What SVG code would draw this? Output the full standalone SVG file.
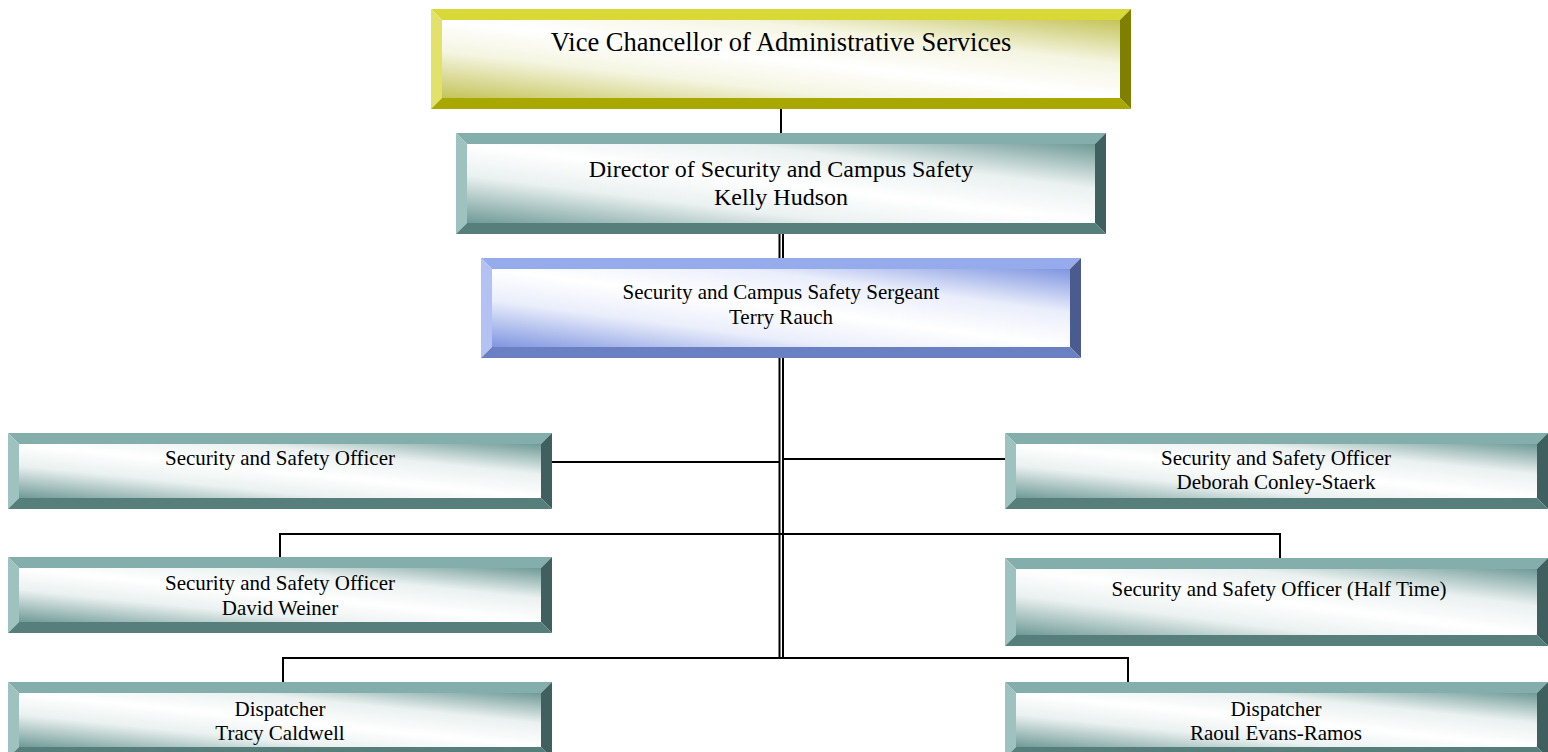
<svg xmlns="http://www.w3.org/2000/svg" width="1548" height="752" viewBox="0 0 1548 752">
<defs>
<linearGradient id="gT" x1="0" y1="1" x2="1" y2="0">
<stop offset="0" stop-color="#6f9a97"/><stop offset="0.3" stop-color="#eaf1f0"/><stop offset="0.5" stop-color="#ffffff"/><stop offset="0.72" stop-color="#eaf1f0"/><stop offset="1" stop-color="#6f9a97"/>
</linearGradient>
<linearGradient id="gY" x1="0" y1="1" x2="1" y2="0">
<stop offset="0" stop-color="#c4c45a"/><stop offset="0.3" stop-color="#f5f5e2"/><stop offset="0.5" stop-color="#ffffff"/><stop offset="0.72" stop-color="#f5f5e2"/><stop offset="1" stop-color="#c4c45a"/>
</linearGradient>
<linearGradient id="gB" x1="0" y1="1" x2="1" y2="0">
<stop offset="0" stop-color="#7f95e0"/><stop offset="0.3" stop-color="#eaeefb"/><stop offset="0.5" stop-color="#ffffff"/><stop offset="0.72" stop-color="#eaeefb"/><stop offset="1" stop-color="#7f95e0"/>
</linearGradient>
</defs>
<style>
.t .bt{fill:#84aeab}.t .bl{fill:#9dc2bf}.t .br{fill:#3f605e}.t .bb{fill:#567f7c}.t .f{fill:url(#gT)}
.y .bt{fill:#d8d836}.y .bl{fill:#e2e26a}.y .br{fill:#7f7f00}.y .bb{fill:#a8a800}.y .f{fill:url(#gY)}
.b .bt{fill:#95abeb}.b .bl{fill:#b3c2f2}.b .br{fill:#4a5b8f}.b .bb{fill:#6a80c2}.b .f{fill:url(#gB)}
text{font-family:"Liberation Serif","Times New Roman",serif;fill:#000;text-anchor:middle}
.s21{font-size:21px}.s24{font-size:24px}.s26{font-size:26.5px}
.c line{stroke:#000;stroke-width:2;fill:none}
</style>
<g class="c" id="connectors">
<line x1="781" y1="109" x2="781" y2="133"/>
<line x1="779.5" y1="234" x2="779.5" y2="258"/>
<line x1="783" y1="234" x2="783" y2="258"/>
<line x1="779.5" y1="358" x2="779.5" y2="659"/>
<line x1="783" y1="358" x2="783" y2="659"/>
<line x1="552" y1="462" x2="780" y2="462"/>
<line x1="783" y1="459" x2="1005" y2="459"/>
<line x1="280" y1="534" x2="1280" y2="534"/>
<line x1="280" y1="533" x2="280" y2="557"/>
<line x1="1280" y1="533" x2="1280" y2="558"/>
<line x1="283" y1="658" x2="1128" y2="658"/>
<line x1="283" y1="657" x2="283" y2="682"/>
<line x1="1128" y1="657" x2="1128" y2="682"/>
</g>
<g id="vc" class="y">
<polygon class="bt" points="431,9 1131,9 1120,20 442,20"/>
<polygon class="bl" points="431,9 442,20 442,98 431,109"/>
<polygon class="br" points="1131,9 1131,109 1120,98 1120,20"/>
<polygon class="bb" points="431,109 442,98 1120,98 1131,109"/>
<rect class="f" x="442" y="20" width="678" height="78"/>
<text class="s26" x="781" y="51">Vice Chancellor of Administrative Services</text>
</g>
<g id="director" class="t">
<polygon class="bt" points="456,133 1106,133 1095,144 467,144"/>
<polygon class="bl" points="456,133 467,144 467,223 456,234"/>
<polygon class="br" points="1106,133 1106,234 1095,223 1095,144"/>
<polygon class="bb" points="456,234 467,223 1095,223 1106,234"/>
<rect class="f" x="467" y="144" width="628" height="79"/>
<text class="s24" x="781" y="177">Director of Security and Campus Safety</text>
<text class="s24" x="781" y="205">Kelly Hudson</text>
</g>
<g id="sergeant" class="b">
<polygon class="bt" points="481,258 1081,258 1070,269 492,269"/>
<polygon class="bl" points="481,258 492,269 492,347 481,358"/>
<polygon class="br" points="1081,258 1081,358 1070,347 1070,269"/>
<polygon class="bb" points="481,358 492,347 1070,347 1081,358"/>
<rect class="f" x="492" y="269" width="578" height="78"/>
<text class="s21" x="781" y="299">Security and Campus Safety Sergeant</text>
<text class="s21" x="781" y="324">Terry Rauch</text>
</g>
<g id="officer1" class="t">
<polygon class="bt" points="8,433 552,433 541,444 19,444"/>
<polygon class="bl" points="8,433 19,444 19,498 8,509"/>
<polygon class="br" points="552,433 552,509 541,498 541,444"/>
<polygon class="bb" points="8,509 19,498 541,498 552,509"/>
<rect class="f" x="19" y="444" width="522" height="54"/>
<text class="s21" x="280" y="465">Security and Safety Officer</text>
</g>
<g id="officer2" class="t">
<polygon class="bt" points="1005,433 1548,433 1537,444 1016,444"/>
<polygon class="bl" points="1005,433 1016,444 1016,498 1005,509"/>
<polygon class="br" points="1548,433 1548,509 1537,498 1537,444"/>
<polygon class="bb" points="1005,509 1016,498 1537,498 1548,509"/>
<rect class="f" x="1016" y="444" width="521" height="54"/>
<text class="s21" x="1276" y="465">Security and Safety Officer</text>
<text class="s21" x="1276" y="489">Deborah Conley-Staerk</text>
</g>
<g id="officer3" class="t">
<polygon class="bt" points="8,557 552,557 541,568 19,568"/>
<polygon class="bl" points="8,557 19,568 19,622 8,633"/>
<polygon class="br" points="552,557 552,633 541,622 541,568"/>
<polygon class="bb" points="8,633 19,622 541,622 552,633"/>
<rect class="f" x="19" y="568" width="522" height="54"/>
<text class="s21" x="280" y="590">Security and Safety Officer</text>
<text class="s21" x="280" y="615">David Weiner</text>
</g>
<g id="officer4" class="t">
<polygon class="bt" points="1005,558 1548,558 1537,569 1016,569"/>
<polygon class="bl" points="1005,558 1016,569 1016,635 1005,646"/>
<polygon class="br" points="1548,558 1548,646 1537,635 1537,569"/>
<polygon class="bb" points="1005,646 1016,635 1537,635 1548,646"/>
<rect class="f" x="1016" y="569" width="521" height="66"/>
<text class="s21" x="1279" y="596">Security and Safety Officer (Half Time)</text>
</g>
<g id="dispatcher1" class="t">
<polygon class="bt" points="8,682 552,682 541,693 19,693"/>
<polygon class="bl" points="8,682 19,693 19,747 8,758"/>
<polygon class="br" points="552,682 552,758 541,747 541,693"/>
<polygon class="bb" points="8,758 19,747 541,747 552,758"/>
<rect class="f" x="19" y="693" width="522" height="54"/>
<text class="s21" x="280" y="716">Dispatcher</text>
<text class="s21" x="280" y="740">Tracy Caldwell</text>
</g>
<g id="dispatcher2" class="t">
<polygon class="bt" points="1005,682 1548,682 1537,693 1016,693"/>
<polygon class="bl" points="1005,682 1016,693 1016,747 1005,758"/>
<polygon class="br" points="1548,682 1548,758 1537,747 1537,693"/>
<polygon class="bb" points="1005,758 1016,747 1537,747 1548,758"/>
<rect class="f" x="1016" y="693" width="521" height="54"/>
<text class="s21" x="1276" y="716">Dispatcher</text>
<text class="s21" x="1276" y="740">Raoul Evans-Ramos</text>
</g>
</svg>
